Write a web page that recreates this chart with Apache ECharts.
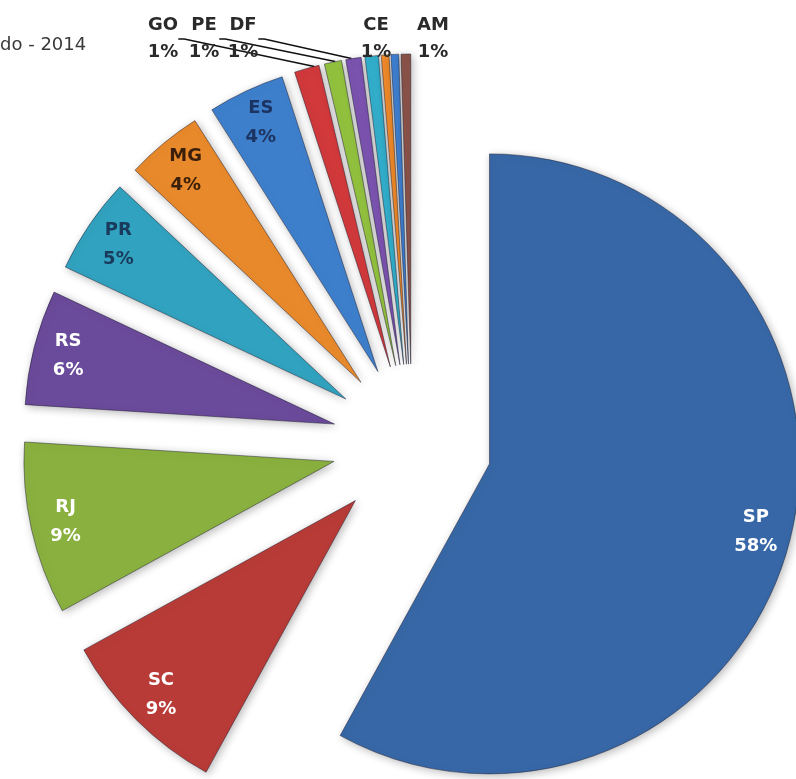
<!DOCTYPE html>
<html>
<head>
<meta charset="utf-8">
<script src="https://cdn.jsdelivr.net/npm/echarts@6/dist/echarts.min.js"></script>
<style>
  html, body { margin: 0; padding: 0; background: #ffffff; }
  #chart { width: 796px; height: 779px; }
</style>
</head>
<body>
<div id="chart"></div>
<script>
// States and their share (%) of the total
const categories = ['SP', 'SC', 'RJ', 'RS', 'PR', 'MG', 'ES', 'GO', 'PE', 'DF', 'CE', 'BA', 'PA', 'AM'];
const shares = [58, 9, 9, 6, 5, 4, 4, 1.3, 0.9, 0.8, 0.7, 0.4, 0.4, 0.5];
const titleText = 'do - 2014';

// Slice palette
const sliceColors = ['#3767a6', '#b83b37', '#8ab13f', '#6a4a9a', '#31a2bf', '#e8892b', '#3e7fcc',
                     '#d1393b', '#92c13e', '#7b53b0', '#32aecb', '#ef8a2a', '#3f7fd0', '#8a5248'];
// Colour of the labels drawn inside the big slices
const insideLabelColors = { SP: '#ffffff', SC: '#ffffff', RJ: '#ffffff', RS: '#ffffff',
                            PR: '#1a3a5c', MG: '#3b1f0a', ES: '#1c3461' };
// Small slices labelled above the pie, with their label anchor
const topLabelPos = { GO: [163, 39], PE: [204, 39], DF: [243, 39], CE: [376, 39], AM: [433, 39] };
const withLeader = { GO: true, PE: true, DF: true };

const CENTER = [412, 444];
const RADIUS = 310;
const OFFSET = 80;
// the thin top slices all sit about OFFSET px out along a near-vertical bisector
const TOP_CENTER = [CENTER[0] - 14, CENTER[1] - OFFSET + 1];
const FONT = 'DejaVu Sans';

const pct = p => Math.round(p.percent) + '%';

const sliceData = categories.map((name, i) => ({
  name, value: shares[i], selected: true,
  itemStyle: { color: sliceColors[i] }
}));

const insideData = categories.map((name, i) => ({
  name, value: shares[i], selected: true,
  label: insideLabelColors[name]
    ? { show: true, color: insideLabelColors[name] }
    : { show: false }
}));

const topData = categories.map((name, i) => ({
  name, value: shares[i],
  label: { show: !!topLabelPos[name] },
  labelLine: { show: !!withLeader[name] }
}));

const common = {
  type: 'pie',
  startAngle: 90,
  clockwise: true,
  avoidLabelOverlap: false,
  animation: false,
  emphasis: { disabled: true, scale: false }
};

const chart = echarts.init(document.getElementById('chart'), null, { renderer: 'canvas' });
chart.setOption({
  backgroundColor: '#ffffff',
  title: {
    text: titleText, left: 0, top: 36, padding: 0,
    textStyle: { fontFamily: FONT, fontSize: 18, fontWeight: 'normal', color: '#3a3a3a' }
  },
  series: [
    Object.assign({}, common, {
      name: 'slices',
      center: CENTER,
      radius: [0, RADIUS],
      selectedMode: 'multiple',
      selectedOffset: OFFSET,
      data: sliceData,
      label: { show: false },
      labelLine: { show: false },
      itemStyle: {
        borderColor: 'rgba(20,20,40,0.45)', borderWidth: 1,
        shadowBlur: 8, shadowColor: 'rgba(0,0,0,0.28)', shadowOffsetX: 2, shadowOffsetY: 2
      }
    }),
    Object.assign({}, common, {
      name: 'inside labels',
      center: CENTER,
      radius: [234, RADIUS],
      selectedMode: 'multiple',
      selectedOffset: OFFSET,
      silent: true,
      data: insideData,
      itemStyle: { color: 'rgba(0,0,0,0)', borderWidth: 0 },
      label: {
        position: 'inside',
        formatter: p => p.name + '\n' + pct(p),
        fontFamily: FONT, fontSize: 18, fontWeight: 'bold', lineHeight: 29,
        textBorderWidth: 0
      },
      labelLine: { show: false }
    }),
    Object.assign({}, common, {
      name: 'top labels',
      center: TOP_CENTER,
      radius: [0, RADIUS],
      silent: true,
      data: topData,
      itemStyle: { color: 'rgba(0,0,0,0)', borderWidth: 0 },
      label: {
        position: 'outside',
        formatter: p => p.name + '\n' + pct(p),
        fontFamily: FONT, fontSize: 18, fontWeight: 'bold', lineHeight: 27,
        color: '#2a2a2a'
      },
      labelLine: { length: 6, length2: 6, lineStyle: { color: '#111111', width: 1.5 } },
      labelLayout: function (params) {
        const name = categories[params.dataIndex];
        const pos = topLabelPos[name];
        if (!pos) return {};
        return { x: pos[0], y: pos[1], align: 'center', verticalAlign: 'middle' };
      }
    })
  ]
});
</script>
</body>
</html>
